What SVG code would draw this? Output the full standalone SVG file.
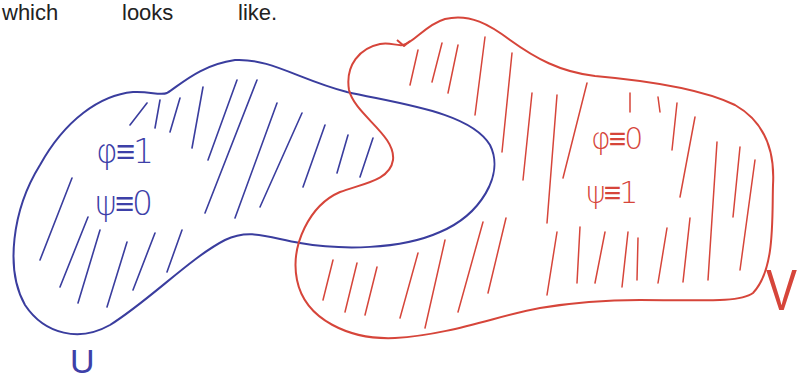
<svg xmlns="http://www.w3.org/2000/svg" width="798" height="381" viewBox="0 0 798 381">
<style>
.bg{fill:#ffffff}
.ob{fill:none;stroke:#3a3d9e;stroke-width:2;stroke-linejoin:round}
.or{fill:none;stroke:#d6453a;stroke-width:2;stroke-linejoin:round}
.hb{fill:none;stroke:#3a3d9e;stroke-width:1.6;stroke-linecap:round}
.hr{fill:none;stroke:#d6453a;stroke-width:1.5;stroke-linecap:round}
.tb{fill:#3d40a8;font-family:"DejaVu Sans",sans-serif;font-weight:200}
.tr{fill:#d6453a;font-family:"DejaVu Sans",sans-serif;font-weight:200}
.lab{font-family:"Liberation Sans",sans-serif}
.head{fill:#222;font-family:"Liberation Sans",sans-serif;font-size:22px}
</style>
<rect class="bg" x="0" y="0" width="798" height="381"/>
<g id="heading">
<text class="head" x="2" y="20">which</text>
<text class="head" x="122" y="20">looks</text>
<text class="head" x="238" y="20">like.</text>
</g>
<g id="node-U">
<path class="ob" d="M 167,93 C 180,85 200,65 235,60 C 270,58 300,80 347,92 C 400,104 470,112 490,145 C 505,175 480,215 440,232 C 400,250 340,250 300,243 C 270,238 250,228 225,240 C 190,258 150,300 110,325 C 80,342 45,335 25,305 C 5,270 12,210 40,165 C 65,120 100,95 133,92 C 150,91 160,96 167,93 Z"/>
<path class="hb" d="M147,103 L130,125 M160,100 L155,128 M180,98 L170,132 M203,87 L192,148 M237,80 L208,160 M257,80 L205,213 M277,103 L235,218 M302,113 L260,207 M325,125 L303,187 M348,135 L337,173 M373,138 L360,177 M72,178 L40,260 M88,217 L60,287 M100,230 L78,303 M127,242 L107,307 M155,233 L133,290 M182,230 L167,272"/>
<text class="tb" x="96" y="163" font-size="33" letter-spacing="-2">φ≡1</text>
<text class="tb" x="95" y="215" font-size="33" letter-spacing="-2">ψ≡0</text>
<text class="lab" x="70" y="373" font-size="34" fill="#3d40a8">U</text>
</g>
<g id="node-V">
<path class="or" d="M 403,45 C 415,42 425,25 445,19 C 470,13 490,25 510,40 C 535,58 560,72 595,76 C 640,80 700,88 735,105 C 765,122 775,150 773,185 C 772,220 775,270 753,293 C 740,303 700,300 640,300 C 600,300 570,303 540,308 C 500,315 450,335 395,338 C 350,340 305,320 297,280 C 290,245 310,205 340,192 C 365,183 390,180 393,160 C 396,135 355,115 349,90 C 345,65 360,48 380,44 C 390,42 396,46 403,45 Z"/>
<path class="or" d="M397,40 L404,46 L410,41"/>
<path class="hr" d="M418,50 L410,85 M442,43 L432,82 M458,45 L448,93 M485,37 L475,115 M512,53 L502,152 M532,93 L523,180 M557,95 L547,223 M587,83 L563,178 M630,93 L630,112 M658,97 L660,112 M677,103 L672,150 M695,117 L680,197 M717,142 L708,280 M740,147 L733,217 M755,160 L740,270 M557,232 L547,295 M580,227 L577,283 M605,232 L595,283 M628,232 L622,287 M638,238 L637,280 M667,228 L658,283 M690,218 L683,282 M333,260 L323,300 M357,263 L345,312 M377,267 L365,315 M418,253 L400,318 M445,240 L425,328 M483,222 L458,312 M506,218 L488,293"/>
<text class="tr" x="591" y="149" font-size="30" letter-spacing="-2">φ≡0</text>
<text class="tr" x="586" y="203" font-size="30" letter-spacing="-2">ψ≡1</text>
<text class="lab" x="0" y="0" font-size="58" fill="#d6453a" transform="translate(766,310) scale(0.8,1)">V</text>
</g>
</svg>
